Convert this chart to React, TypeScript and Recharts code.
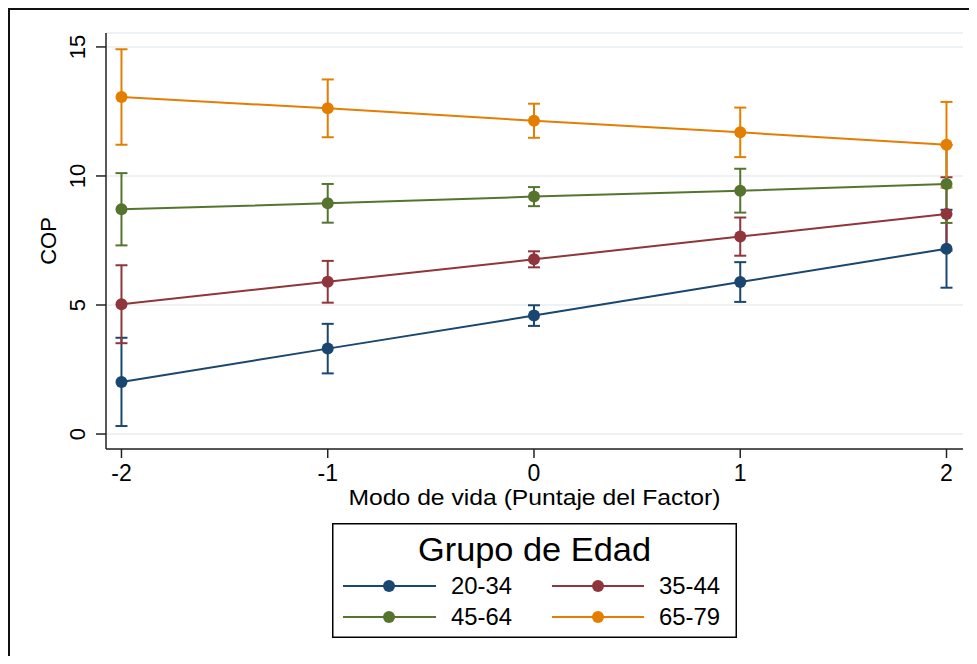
import { LineChart, Line, XAxis, YAxis, CartesianGrid, ErrorBar, Legend } from "recharts";

// Factor score positions on the x axis
const xValues = [-2, -1, 0, 1, 2];
const xTicks = [-2, -1, 0, 1, 2];
const yTicks = [0, 5, 10, 15];

// Predicted COP by age group, with 95% CI half-widths
const cop20_34 = [2.02, 3.31, 4.59, 5.89, 7.18];
const ci20_34 = [1.71, 0.96, 0.4, 0.77, 1.51];
const cop35_44 = [5.03, 5.9, 6.77, 7.65, 8.53];
const ci35_44 = [1.51, 0.81, 0.31, 0.74, 1.42];
const cop45_64 = [8.71, 8.94, 9.2, 9.43, 9.69];
const ci45_64 = [1.4, 0.75, 0.37, 0.85, 1.51];
const cop65_79 = [13.06, 12.62, 12.14, 11.69, 11.21];
const ci65_79 = [1.85, 1.12, 0.66, 0.96, 1.66];

const groups = [
  { key: "g1", name: "20-34", color: "#1a476f", mean: cop20_34, ci: ci20_34 },
  { key: "g2", name: "35-44", color: "#90353b", mean: cop35_44, ci: ci35_44 },
  { key: "g3", name: "45-64", color: "#55752f", mean: cop45_64, ci: ci45_64 },
  { key: "g4", name: "65-79", color: "#e37e00", mean: cop65_79, ci: ci65_79 },
];

const data = xValues.map((x, i) => {
  const row: Record<string, number> = { x };
  groups.forEach((g) => {
    row[g.key] = g.mean[i];
    row[g.key + "_ci"] = g.ci[i];
  });
  return row;
});

const FONT = "'Liberation Sans', Arial, Helvetica, sans-serif";
const AXIS = "#222";

function YTick({ x, y, payload }: any) {
  return (
    <text
      x={x - 11}
      y={y}
      transform={`rotate(-90, ${x - 11}, ${y})`}
      textAnchor="middle"
      fontSize={22}
      fontFamily={FONT}
      fill="#000"
    >
      {payload.value}
    </text>
  );
}

function XTick({ x, y, payload }: any) {
  return (
    <text x={x} y={y + 23} textAnchor="middle" fontSize={23} fontFamily={FONT} fill="#000">
      {payload.value}
    </text>
  );
}

function XLabel({ viewBox }: any) {
  const { x, y, width } = viewBox;
  return (
    <text
      x={x + width / 2}
      y={y + 56}
      textAnchor="middle"
      fontSize={22}
      fontFamily={FONT}
      fill="#000"
      textLength={372}
      lengthAdjust="spacingAndGlyphs"
    >
      Modo de vida (Puntaje del Factor)
    </text>
  );
}

function YLabel({ viewBox }: any) {
  const { x, y, height } = viewBox;
  const lx = x + 10;
  const ly = y + height / 2;
  return (
    <text
      x={lx}
      y={ly}
      transform={`rotate(-90, ${lx}, ${ly})`}
      textAnchor="middle"
      fontSize={22}
      fontFamily={FONT}
      fill="#000"
    >
      COP
    </text>
  );
}

function GroupLegend() {
  const cols = [
    { line: [11, 104], dot: 57, text: 119 },
    { line: [220, 312], dot: 266, text: 327 },
  ];
  const rows = [63, 94];
  return (
    <svg width={405} height={115} style={{ display: "block" }}>
      <rect x={0.75} y={0.75} width={403.5} height={113.5} fill="#fff" stroke="#000" strokeWidth={1.5} />
      <text
        x={202.5}
        y={38}
        textAnchor="middle"
        fontSize={33}
        fontFamily={FONT}
        fill="#000"
        textLength={233}
        lengthAdjust="spacingAndGlyphs"
      >
        Grupo de Edad
      </text>
      {groups.map((g, i) => {
        const c = cols[i % 2];
        const cy = rows[Math.floor(i / 2)];
        return (
          <g key={g.key}>
            <line x1={c.line[0]} x2={c.line[1]} y1={cy} y2={cy} stroke={g.color} strokeWidth={2} />
            <circle cx={c.dot} cy={cy} r={6} fill={g.color} />
            <text x={c.text} y={cy + 8} fontSize={23} fontFamily={FONT} fill="#000" textLength={61} lengthAdjust="spacingAndGlyphs">
              {g.name}
            </text>
          </g>
        );
      })}
    </svg>
  );
}

export default function App() {
  return (
    <div style={{ position: "relative", width: 961, height: 648, overflow: "hidden", background: "#fff" }}>
      <div
        style={{
          position: "absolute",
          left: 0,
          top: 0,
          width: 961,
          height: 648,
          borderLeft: "2px solid #111",
          borderTop: "2px solid #111",
          boxSizing: "border-box",
        }}
      />
      <LineChart
        width={961}
        height={648}
        data={data}
        margin={{ top: 25, right: 6, left: 38, bottom: 167 }}
      >
        <CartesianGrid horizontal vertical={false} stroke="#e8eef2" strokeWidth={1.5} />
        <XAxis
          dataKey="x"
          type="number"
          domain={[-2.075, 2.08]}
          ticks={xTicks}
          allowDataOverflow
          height={40}
          tickSize={9}
          tickMargin={0}
          tick={<XTick />}
          axisLine={{ stroke: AXIS, strokeWidth: 1.5 }}
          tickLine={{ stroke: AXIS, strokeWidth: 1.5 }}
          label={<XLabel />}
        />
        <YAxis
          type="number"
          domain={[-0.58, 15.54]}
          ticks={yTicks}
          allowDataOverflow
          width={60}
          tickSize={10}
          tickMargin={0}
          tick={<YTick />}
          axisLine={{ stroke: AXIS, strokeWidth: 1.5 }}
          tickLine={{ stroke: AXIS, strokeWidth: 1.5 }}
          label={<YLabel />}
        />
        {/* confidence intervals go underneath every line and marker */}
        {groups.map((g) => (
          <Line
            key={g.key + "_bars"}
            dataKey={g.key}
            stroke="none"
            dot={false}
            activeDot={false}
            legendType="none"
            isAnimationActive={false}
          >
            <ErrorBar
              dataKey={g.key + "_ci"}
              direction="y"
              width={6}
              stroke={g.color}
              strokeWidth={2}
              isAnimationActive={false}
            />
          </Line>
        ))}
        {groups.map((g) => (
          <Line
            key={g.key}
            name={g.name}
            dataKey={g.key}
            stroke={g.color}
            strokeWidth={2}
            dot={{ r: 6, fill: g.color, stroke: g.color, strokeWidth: 0 }}
            activeDot={false}
            isAnimationActive={false}
          />
        ))}
        <Legend
          layout="vertical"
          verticalAlign="middle"
          align="center"
          content={() => <GroupLegend />}
          wrapperStyle={{ position: "absolute", left: 324, top: 515, width: 405, height: 115 }}
        />
      </LineChart>
    </div>
  );
}
